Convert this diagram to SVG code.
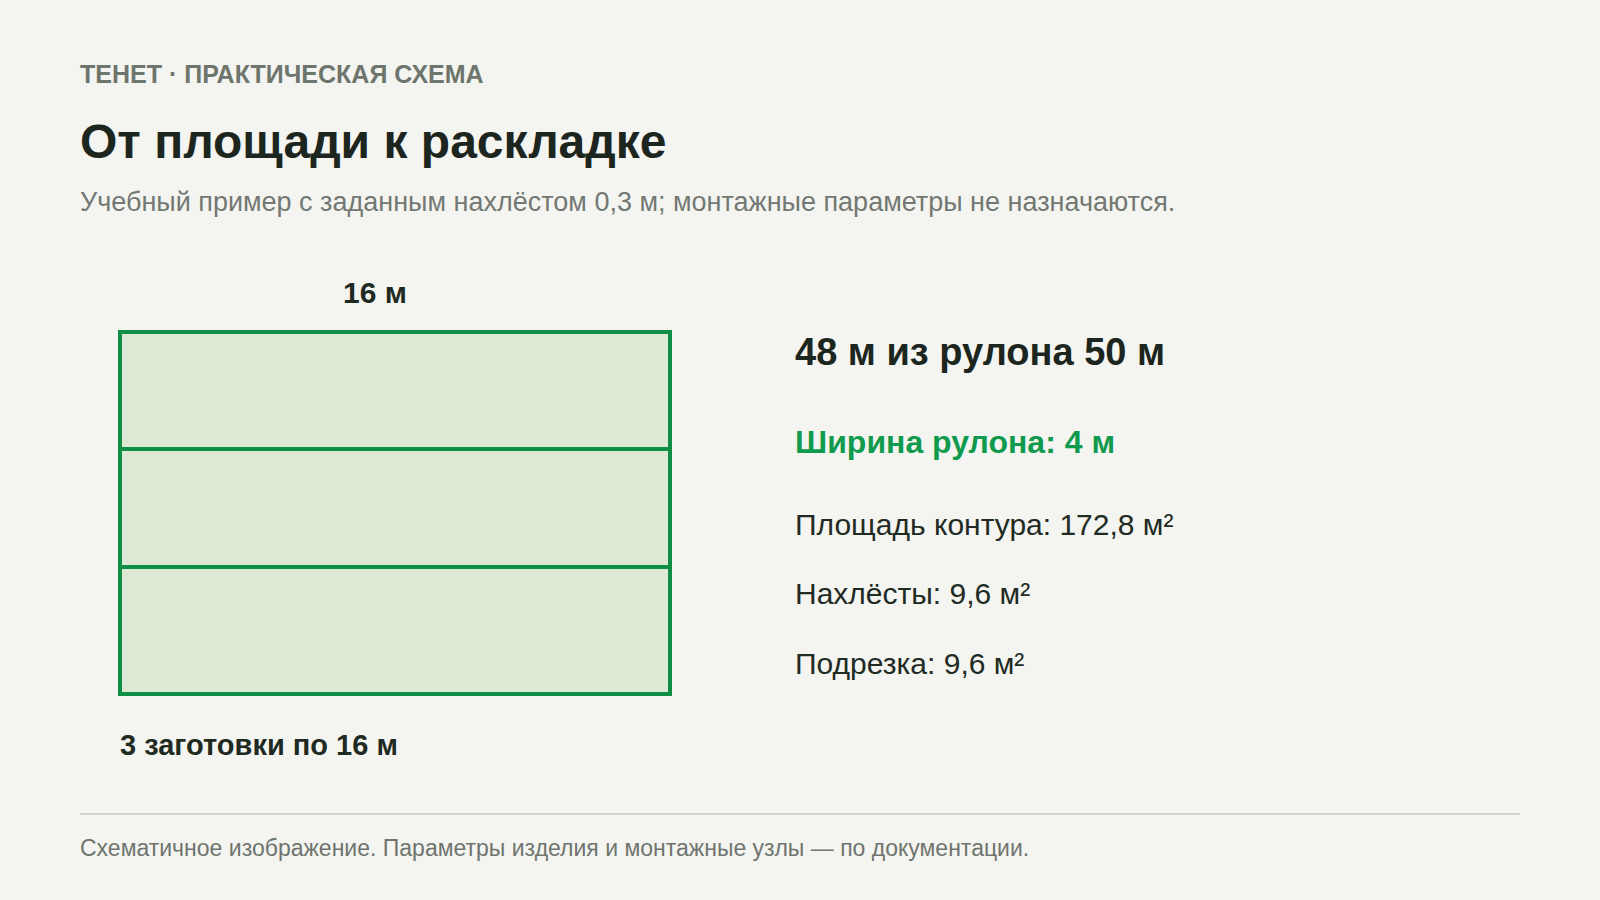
<svg xmlns="http://www.w3.org/2000/svg" width="1600" height="900" viewBox="0 0 1600 900">
<style>
text{font-family:"Liberation Sans",Arial,sans-serif}
.kick{font-size:25px;font-weight:bold;fill:#6d756d}
.title{font-size:48px;font-weight:bold;fill:#1c261e}
.sub{font-size:27px;fill:#737873}
.dim{font-size:29px;font-weight:bold;fill:#1f2a22}
.big{font-size:38px;font-weight:bold;fill:#1c261e}
.green{font-size:32px;font-weight:bold;fill:#0f9a4e}
.stat{font-size:30px;fill:#222a24}
.foot{font-size:23px;fill:#6f746f}
.strip{fill:#dde9d5;stroke:#0f8f46;stroke-width:4}
</style>
<rect width="1600" height="900" fill="#f4f5f0"/>
<text class="kick" x="80" y="83">ТЕНЕТ · ПРАКТИЧЕСКАЯ СХЕМА</text>
<text class="title" x="80" y="158">От площади к раскладке</text>
<text class="sub" x="80" y="211">Учебный пример с заданным нахлёстом 0,3 м; монтажные параметры не назначаются.</text>
<g id="layout">
<text class="dim" x="375" y="303" text-anchor="middle" style="font-size:30px">16 м</text>
<rect class="strip" x="120" y="332" width="550" height="362"/>
<line x1="120" y1="449" x2="670" y2="449" stroke="#0f8f46" stroke-width="4"/>
<line x1="120" y1="567" x2="670" y2="567" stroke="#0f8f46" stroke-width="4"/>
<text class="dim" x="120" y="755">3 заготовки по 16 м</text>
</g>
<g id="stats">
<text class="big" x="795" y="365">48 м из рулона 50 м</text>
<text class="green" x="795" y="453">Ширина рулона: 4 м</text>
<text class="stat" x="795" y="535">Площадь контура: 172,8 м²</text>
<text class="stat" x="795" y="604">Нахлёсты: 9,6 м²</text>
<text class="stat" x="795" y="674">Подрезка: 9,6 м²</text>
</g>
<line x1="80" y1="814" x2="1520" y2="814" stroke="#d0d3ce" stroke-width="2"/>
<text class="foot" x="80" y="856">Схематичное изображение. Параметры изделия и монтажные узлы — по документации.</text>
</svg>
